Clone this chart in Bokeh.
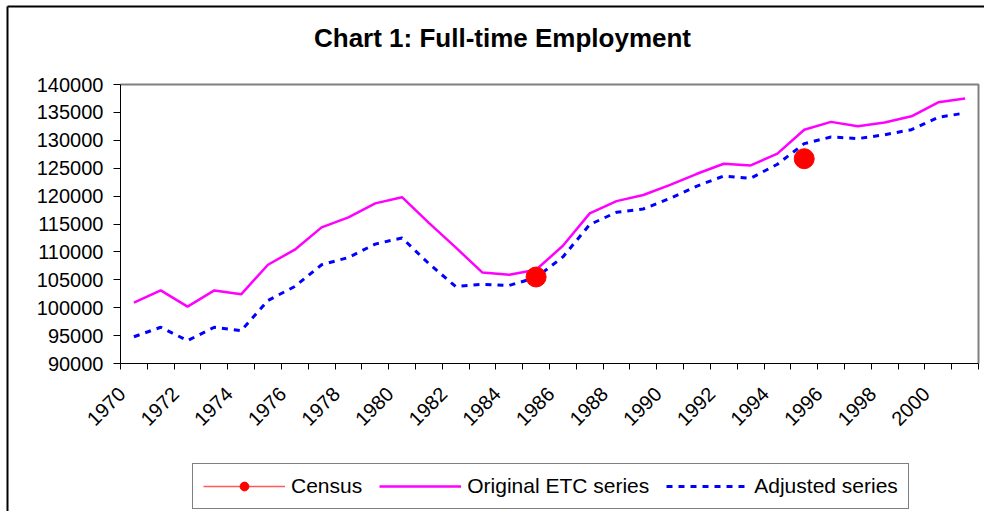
from math import pi
from bokeh.plotting import figure
from bokeh.models import (Range1d, FixedTicker, NumeralTickFormatter, Legend,
                          LegendItem, Label)
from bokeh.embed import file_html
from bokeh.resources import INLINE

# ---------------- data ----------------
years = list(range(1970, 2002))
x_tick_years = list(range(1970, 2001, 2))
x_tick_labels = [str(y) for y in x_tick_years]
y_ticks = list(range(90000, 140001, 5000))

original_etc = [100900, 103100, 100200, 103100, 102400, 107700, 110400, 114400, 116200, 118700,
                119800, 115200, 110800, 106300, 105900, 106800, 111100, 116900, 119100, 120200,
                122000, 124000, 125800, 125500, 127600, 131900, 133300, 132500, 133200, 134300,
                136800, 137500]

adjusted = [94800, 96500, 94100, 96500, 95900, 101300, 103800, 107700, 109000, 111400,
            112500, 107900, 103800, 104200, 104000, 105400, 109100, 114900, 117100, 117700,
            119600, 121800, 123600, 123200, 125700, 129400, 130600, 130300, 131000, 131900,
            134100, 134900]

nan = float("nan")
census = [nan] * 15 + [105500] + [nan] * 9 + [126700] + [nan] * 6

title_text = "Chart 1: Full-time Employment"
FONT = "Liberation Sans"

# ---------------- layout geometry (pixels) ----------------
W, H = 984, 511
PL, PR, PT, PB = 120, 978, 84, 363          # plot-area box on the canvas
X0, X1 = years[0] - 0.5, years[-1] + 0.5     # category axis extent
Y0, Y1 = y_ticks[0], y_ticks[-1]
sx = (PR - PL) / (X1 - X0)
sy = (PB - PT) / (Y1 - Y0)
x_start, x_end = X0 - PL / sx, X1 + (W - PR) / sx
y_start, y_end = Y0 - (H - PB) / sy, Y1 + PT / sy


def dx(px):
    return x_start + px / sx


def dy(py):
    return y_end - py / sy


# ---------------- figure ----------------
p = figure(width=W, height=H, output_backend="svg", toolbar_location=None,
           x_range=Range1d(x_start, x_end), y_range=Range1d(y_start, y_end),
           min_border=0)
p.title.visible = False
p.background_fill_color = "white"
p.border_fill_color = "white"
p.outline_line_color = None
p.grid.visible = False

# outer chart border (top + left) and plot-area border (top + right)
p.line([dx(7), dx(W)], [dy(6), dy(6)], line_color="black", line_width=2)
p.line([dx(7), dx(7)], [dy(6), dy(H)], line_color="black", line_width=2)
p.line([X0, X1, X1], [Y1, Y1, Y0], line_color="#808080", line_width=2)

r_adj = p.line(years, adjusted, line_color="#0000ff", line_width=3, line_dash="6 6")
r_orig = p.line(years, original_etc, line_color="#ff00ff", line_width=2.5)
r_cen_line = p.line(years, census, line_color="#ff5a5a", line_width=1.5)
r_cen_pts = p.scatter(years, census, size=20, fill_color="#ff0000", line_color="#ff0000")

# title
p.add_layout(Label(x=dx(502), y=dy(37), text=title_text, text_align="center",
                   text_baseline="alphabetic", text_font=FONT, text_font_size="26px",
                   text_font_style="bold", text_color="black"))

# x axis (category-style: ticks between years, labels every other year)
xa = p.xaxis[0]
xa.fixed_location = Y0
xa.bounds = (X0, X1)
label_pos = [y - 0.45 for y in x_tick_years]
xa.ticker = FixedTicker(ticks=label_pos, minor_ticks=[y - 0.5 for y in years + [years[-1] + 1]])
xa.major_label_overrides = {pos: l for pos, l in zip(label_pos, x_tick_labels)}
xa.major_tick_line_color = None
xa.minor_tick_line_color = "black"
xa.minor_tick_out = 6
xa.minor_tick_in = 0
xa.axis_line_color = "black"
xa.major_label_orientation = pi / 4
xa.major_label_text_font = FONT
xa.major_label_text_font_size = "20px"
xa.major_label_text_color = "black"
xa.major_label_standoff = 21

# y axis
ya = p.yaxis[0]
ya.fixed_location = X0
ya.bounds = (Y0, Y1)
ya.ticker = FixedTicker(ticks=y_ticks, minor_ticks=[])
ya.formatter = NumeralTickFormatter(format="0")
ya.major_tick_out = 7
ya.major_tick_in = 0
ya.major_tick_line_color = "black"
ya.axis_line_color = "black"
ya.major_label_text_font = FONT
ya.major_label_text_font_size = "20px"
ya.major_label_text_color = "black"
ya.major_label_standoff = 10

# legend (inside the canvas-wide frame, below the plot area)
legend = Legend(items=[LegendItem(label="Census", renderers=[r_cen_line, r_cen_pts]),
                       LegendItem(label="Original ETC series", renderers=[r_orig]),
                       LegendItem(label="Adjusted series", renderers=[r_adj])],
                orientation="horizontal", location=(192, 2),
                glyph_width=82, glyph_height=22, label_height=22, label_standoff=6,
                spacing=17, padding=10, margin=0,
                label_text_font=FONT, label_text_font_size="21px", label_text_color="black",
                border_line_color="black", border_line_width=1,
                background_fill_color="white", background_fill_alpha=1)
p.add_layout(legend, "center")

open("out.html", "w").write(file_html(p, INLINE))
